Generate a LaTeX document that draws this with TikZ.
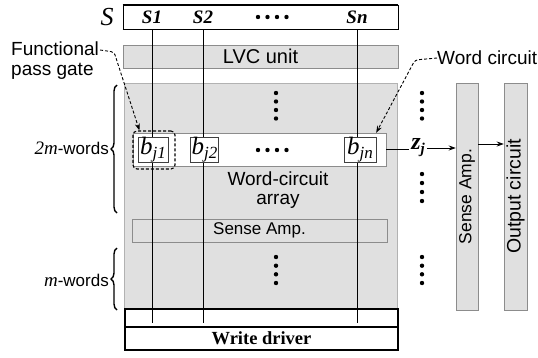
\documentclass[tikz,border=0pt]{standalone}
\usepackage{fontspec}
\setmainfont{Liberation Sans}
\newfontfamily\serif{Liberation Serif}
\usetikzlibrary{positioning,arrows.meta,decorations.pathreplacing}

\newcommand{\bj}[1]{{\serif\itshape\fontsize{25}{25}\selectfont b\raisebox{-4pt}{\fontsize{17}{17}\selectfont #1}}}

\begin{document}
\begin{tikzpicture}[x=1pt, y=-1pt,
  every node/.style={inner sep=0pt, font=\fontsize{19}{19}\selectfont},
  block/.style={draw=black!45, fill=black!12, line width=0.5pt},
  cell/.style={draw=black!75, fill=white, line width=0.8pt, minimum width=30pt, minimum height=25pt},
  heavy/.style={draw, line width=1.8pt, fill=white, minimum width=273pt},
  bitline/.style={line width=0.6pt},
  callout/.style={densely dashed, line width=0.9pt, rounded corners=3pt, -{Stealth[length=7pt,width=5pt]}},
  flow/.style={line width=0.8pt, -{Stealth[length=7pt,width=5pt]}},
  brc/.style={decorate, decoration={brace, amplitude=6pt}, line width=1.4pt}]

\useasboundingbox (0,0) rectangle (538,357);

% select lines
\node (bus) [draw, line width=0.8pt, minimum width=275pt, minimum height=24pt] at (260.5,17) {};
\draw[line width=1.8pt] (bus.north west) -- (bus.north east);
\draw[line width=1.8pt] (bus.south west) -- (bus.south east);
\node (S) at (107,17) {\serif\itshape\fontsize{26}{26}\selectfont S};
\node (s1) at (152,17) {\serif\bfseries\itshape S1};
\node (s2) at (203,17) {\serif\bfseries\itshape S2};
\node (sn) at (357,17) {\serif\bfseries\itshape Sn};

% blocks
\node (array) [block, draw=black!30, minimum width=273pt, minimum height=226pt] at (260.5,196) {};
\node (lvc) [block, minimum width=275pt, minimum height=23pt, font=\fontsize{20}{20}\selectfont] at (260.5,56.5) {LVC unit};
\node (row) [draw=black!45, fill=white, minimum width=253pt, minimum height=33pt] at (259.5,149.5) {};
\node (sa) [block, minimum width=255pt, minimum height=23pt, font=\fontsize{17}{19}\selectfont] at (259.5,230.5) {Sense Amp.};
\node (wca) [align=center] at (278,190) {Word-circuit\\array};
\node (wd) [heavy, minimum height=23pt, font=\serif\bfseries\fontsize{18.5}{19}\selectfont] at (261.5,338.5) {Write driver};
\node (wdtop) [heavy, minimum height=18pt, above=-1.8pt of wd] {};

\coordinate (lineend) at (261.5,323);
\foreach \s in {s1,s2,sn} \draw[bitline] (\s |- bus.south) -- (\s |- lineend);

% word circuit
\node (b1) [cell] at (153,149.5) {\bj{j1}};
\node (b2) [cell, minimum width=28pt] at (204.5,149.5) {\bj{j2}};
\node (bn) [cell, minimum width=32pt] at (360,149.5) {\bj{jn}};
\node (pg) [draw, densely dashed, rounded corners=4pt, line width=1.1pt, minimum width=42pt, minimum height=38pt] at (154,150) {};

\foreach \x in {258,267.5,277,286.5} {
  \fill (\x,17) circle (2.2pt);
  \fill (\x,150) circle (2.2pt);
}
\foreach \y in {93,101.5,110,118.5} {
  \fill (276,\y) circle (2.2pt);
  \fill (422,\y) circle (2.2pt);
}
\foreach \y in {257,265.7,274.3,283} {
  \fill (276,\y) circle (2.2pt);
  \fill (422,\y) circle (2.2pt);
}
\foreach \y in {174,183,192,201} \fill (422,\y) circle (2.2pt);

% output side
\node (zj) at (418,148) {\serif\bfseries\itshape\fontsize{24}{24}\selectfont z\raisebox{-4pt}{\fontsize{15}{15}\selectfont j}};
\node (sav) [block, rotate=90, minimum width=227pt, minimum height=22pt, font=\fontsize{17.5}{19}\selectfont] at (467,196.5) {Sense Amp.};
\node (oc) [block, rotate=90, minimum width=227pt, minimum height=23pt, font=\fontsize{19.5}{19}\selectfont] at (515.5,196.5) {Output circuit};

\draw[line width=0.8pt] (row.east) -- ([xshift=-2pt]row.east -| zj.west);
\draw[flow] ([xshift=2pt]zj.east) -- (zj.east -| sav.north);
\draw[flow] ([yshift=4pt]sav.south |- zj.east) -- ([yshift=4pt]oc.north |- zj.east);

% braces
\coordinate (tw-lo) at (117,213);
\coordinate (tw-hi) at (117,85);
\coordinate (on-lo) at (117,310);
\coordinate (on-hi) at (117,248);
\draw[brc] (tw-lo) -- (tw-hi);
\draw[brc] (on-lo) -- (on-hi);
\node (w2m) [anchor=east, font=\fontsize{17}{19}\selectfont] at (109,148) {{\serif\itshape\fontsize{19}{19}\selectfont 2m}-words};
\node (w1m) [anchor=east, font=\fontsize{17}{19}\selectfont] at (109,280) {{\serif\itshape\fontsize{19}{19}\selectfont m}-words};

% callouts
\node (fpg) [anchor=north west, align=left, font=\fontsize{19}{19.5}\selectfont] at (11,42) {Functional\\pass gate};
\node (wcl) [anchor=west] at (437,58) {Word circuit};
\draw[callout] ([shift={(1pt,-8pt)}]fpg.north east) -- ++(14,2) -- ([xshift=7pt]pg.north west);
\draw[callout] (wcl.west) -- ++(-22,2) -- ([xshift=-10pt]row.north east);
\end{tikzpicture}
\end{document}
